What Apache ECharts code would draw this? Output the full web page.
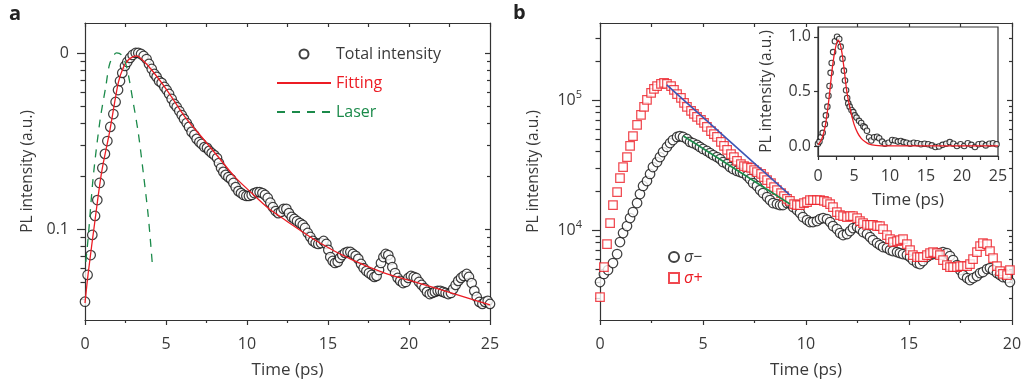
<!DOCTYPE html>
<html>
<head>
<meta charset="utf-8">
<script src="https://cdn.jsdelivr.net/npm/echarts@6/dist/echarts.min.js"></script>
<style>
  html, body { margin: 0; padding: 0; background: #fff; }
  #chart { width: 1022px; height: 387px; }
</style>
</head>
<body>
<div id="chart"></div>
<script>
// panel a: total intensity (normalised), fit and laser profile
const tA = [0, 0.16, 0.35, 0.45, 0.62, 0.76, 0.9, 1.07, 1.23, 1.38,
  1.56, 1.75, 1.89, 2.04, 2.16, 2.3, 2.47, 2.61, 2.78, 2.94,
  3.13, 3.29, 3.46, 3.62, 3.8, 3.95, 4.12, 4.28, 4.42, 4.57,
  4.73, 4.9, 5.04, 5.19, 5.35, 5.51, 5.66, 5.82, 5.97, 6.11,
  6.28, 6.42, 6.58, 6.75, 6.89, 7.06, 7.2, 7.37, 7.53, 7.67,
  7.82, 7.98, 8.15, 8.27, 8.4, 8.54, 8.68, 8.85, 9.01, 9.16,
  9.3, 9.47, 9.63, 9.79, 9.96, 10.12, 10.29, 10.45, 10.62, 10.78,
  10.95, 11.11, 11.28, 11.44, 11.6, 11.77, 11.93, 12.1, 12.26, 12.43,
  12.59, 12.76, 12.92, 13.09, 13.27, 13.44, 13.58, 13.75, 13.91, 14.07,
  14.24, 14.4, 14.57, 14.73, 14.9, 15.02, 15.14, 15.29, 15.43, 15.6,
  15.74, 15.88, 16.05, 16.21, 16.38, 16.54, 16.71, 16.87, 17.04, 17.2,
  17.37, 17.53, 17.7, 17.86, 18.0, 18.15, 18.27, 18.42, 18.56, 18.72,
  18.85, 18.97, 19.14, 19.3, 19.46, 19.63, 19.8, 19.96, 20.12, 20.29,
  20.45, 20.62, 20.78, 20.95, 21.11, 21.28, 21.44, 21.6, 21.77, 21.93,
  22.1, 22.26, 22.42, 22.59, 22.73, 22.88, 23.04, 23.21, 23.37, 23.56,
  23.7, 23.87, 24.03, 24.18, 24.34, 24.53, 24.69, 24.86, 25.0];
const vA = [0.0386, 0.0548, 0.0711, 0.0925, 0.1186, 0.146, 0.1825, 0.222, 0.267, 0.316,
  0.38, 0.45, 0.527, 0.616, 0.693, 0.77, 0.844, 0.889, 0.937, 0.974,
  1.0, 1.0, 0.987, 0.962, 0.924, 0.866, 0.811, 0.76, 0.731, 0.693,
  0.676, 0.641, 0.616, 0.585, 0.548, 0.513, 0.493, 0.468, 0.444, 0.422,
  0.4, 0.38, 0.356, 0.342, 0.325, 0.312, 0.304, 0.292, 0.289, 0.278,
  0.27, 0.263, 0.253, 0.237, 0.222, 0.211, 0.203, 0.197, 0.192, 0.1825,
  0.173, 0.164, 0.16, 0.156, 0.154, 0.154, 0.156, 0.16, 0.162, 0.162,
  0.16, 0.156, 0.15, 0.141, 0.133, 0.1265, 0.123, 0.125, 0.13, 0.13,
  0.123, 0.117, 0.114, 0.111, 0.108, 0.1054, 0.1013, 0.0949, 0.0901, 0.0855,
  0.0832, 0.0822, 0.0832, 0.0855, 0.0822, 0.076, 0.0693, 0.0658, 0.0641, 0.065,
  0.0685, 0.0711, 0.0731, 0.074, 0.074, 0.0721, 0.0703, 0.0676, 0.0633, 0.06,
  0.0577, 0.0562, 0.0548, 0.0534, 0.0541, 0.0585, 0.0641, 0.0693, 0.0721, 0.0711,
  0.0667, 0.0608, 0.0562, 0.0527, 0.0507, 0.0493, 0.05, 0.0527, 0.0541, 0.0534,
  0.0527, 0.05, 0.0481, 0.0462, 0.0439, 0.0427, 0.0433, 0.0439, 0.0445, 0.0445,
  0.0439, 0.0433, 0.0427, 0.0433, 0.0456, 0.0481, 0.0507, 0.0527, 0.0541, 0.0555,
  0.0534, 0.0493, 0.0445, 0.0411, 0.0385, 0.0375, 0.0385, 0.039, 0.0375];
const tFitA = [0, 0.2, 0.62, 1.03, 1.54, 2.06, 2.4, 2.67, 2.95, 3.19, 3.5, 4.12, 5.14,
  6.17, 7.2, 8.23, 9.26, 10.29, 11.3, 12.35, 14.4, 16.5, 18.5, 20.6, 22.6, 25];
const vFitA = [0.038, 0.0562, 0.1125, 0.211, 0.365, 0.68, 0.84, 0.912, 0.95, 0.962, 0.92, 0.8, 0.6,
  0.433, 0.333, 0.2565, 0.197, 0.16, 0.1316, 0.1125, 0.0844, 0.0667, 0.0562, 0.0493, 0.0433, 0.037];
const tLaser = [0.05, 0.2, 0.51, 0.93, 1.28, 1.54, 1.95, 2.26, 2.57, 2.98, 3.29, 3.6, 3.91, 4.16];
const vLaser = [0.065, 0.09, 0.1985, 0.416, 0.641, 0.877, 1.0, 0.974, 0.833, 0.52, 0.351, 0.208, 0.117, 0.0624];

// panel b: sigma- and sigma+ intensity
const tMinus = [0, 0.19, 0.39, 0.63, 0.83, 0.97, 1.12, 1.31, 1.46, 1.6,
  1.8, 1.94, 2.09, 2.28, 2.43, 2.57, 2.77, 2.91, 3.06, 3.25,
  3.4, 3.54, 3.74, 3.88, 4.03, 4.22, 4.37, 4.51, 4.71, 4.85,
  5.0, 5.19, 5.34, 5.49, 5.68, 5.83, 5.97, 6.17, 6.31, 6.46,
  6.65, 6.8, 6.94, 7.14, 7.28, 7.43, 7.62, 7.77, 7.91, 8.11,
  8.25, 8.4, 8.59, 8.74, 8.88, 9.08, 9.22, 9.37, 9.56, 9.71,
  9.85, 10.05, 10.19, 10.34, 10.53, 10.68, 10.83, 11.02, 11.17, 11.31,
  11.5, 11.65, 11.8, 11.99, 12.14, 12.28, 12.48, 12.62, 12.77, 12.96,
  13.11, 13.25, 13.45, 13.59, 13.74, 13.93, 14.08, 14.22, 14.42, 14.56,
  14.71, 14.9, 15.05, 15.19, 15.39, 15.53, 15.68, 15.87, 16.02, 16.17,
  16.36, 16.5, 16.65, 16.84, 16.99, 17.14, 17.33, 17.48, 17.62, 17.82,
  17.96, 18.11, 18.3, 18.45, 18.59, 18.79, 18.93, 19.08, 19.27, 19.42,
  19.56, 19.76, 19.9];
const vMinus = [3981, 4592, 4924, 5572, 6537, 8085, 9482, 10730, 12370, 13750,
  16130, 18920, 21810, 23820, 26970, 30520, 33350, 36430, 39810, 43500,
  46690, 49230, 51930, 52850, 51930, 50120, 47530, 46690, 45070, 43500,
  42000, 40540, 39110, 37750, 36430, 35170, 33350, 32190, 30520, 29460,
  28440, 27930, 27450, 26030, 24680, 22990, 21810, 20310, 19260, 17940,
  17010, 16130, 15850, 15570, 15570, 16130, 16130,
  15030, 14250, 13520, 12590, 11940, 11520, 11520, 11730, 12150, 12370,
  12150, 11520, 10730, 10180, 9482, 9153, 9316, 9824, 10360, 10550,
  10180, 9652, 9316, 8834, 8377, 7943, 7667, 7400, 7270, 7017,
  6894, 6773, 6654, 6537, 6422, 6199, 5878, 5572, 5475, 5774,
  6199, 6422, 6537, 6654, 6654, 6773, 6654, 6310, 5878, 5380,
  4924, 4505, 4272, 4125, 4272, 4426, 4669, 4753, 5012, 5103,
  4924, 4669, 4505, 4350, 4272, 3981];
const tPlus = [0, 0.19, 0.34, 0.49, 0.63, 0.83, 0.97, 1.12, 1.31, 1.46,
  1.6, 1.8, 1.99, 2.14, 2.28, 2.48, 2.62, 2.77, 2.96, 3.11,
  3.25, 3.45, 3.59, 3.74, 3.93, 4.08, 4.22, 4.42, 4.56, 4.71,
  4.9, 5.05, 5.19, 5.39, 5.53, 5.68, 5.87, 6.02, 6.17, 6.36,
  6.5, 6.65, 6.84, 6.99, 7.14, 7.33, 7.48, 7.62, 7.82, 7.96,
  8.11, 8.3, 8.45, 8.59, 8.79, 8.93, 9.08, 9.22, 9.42, 9.56,
  9.71, 9.9, 10.05, 10.19, 10.34, 10.53, 10.68, 10.87, 11.02, 11.17,
  11.31, 11.5, 11.65, 11.8, 11.99, 12.14, 12.28, 12.48, 12.62, 12.77,
  12.96, 13.11, 13.25, 13.45, 13.59, 13.74, 13.93, 14.08, 14.22, 14.42,
  14.56, 14.71, 14.9, 15.05, 15.19, 15.39, 15.53, 15.68, 15.87, 16.02,
  16.17, 16.36, 16.5, 16.65, 16.84, 16.99, 17.14, 17.33, 17.48, 17.62,
  17.82, 17.96, 18.11, 18.3, 18.45, 18.59, 18.79, 18.93, 19.08, 19.27,
  19.42, 19.56, 19.76, 19.9];
const vPlus = [3052, 5192, 7804, 11320, 15570, 19600, 25120, 30520, 36430, 44280,
  52850, 64230, 76670, 88350, 100000, 113200, 121500, 128100, 132800, 135200,
  132800, 128100, 119400, 111200, 103600, 94820, 88350, 82300, 78050, 74010,
  70190, 66560, 61990, 57740, 54760, 51930, 47530, 44280, 41250, 38420,
  36430, 33950, 32190, 31070, 30520, 29990, 28940, 27930, 26970, 25570,
  24240, 22990, 21420, 20310, 19260, 18260, 17320, 16720, 15850, 15570,
  15570, 16130, 16420, 17010, 17010, 17010, 17010, 16720, 16420, 15850,
  15030, 13750, 13040, 12810, 12590, 12810, 12810, 12370, 11730, 11320,
  10930, 10930, 10930, 10730, 10730, 10180, 9153, 8526, 8085, 8230,
  8377, 8526, 7804, 7017, 6422, 6199, 6199, 6199, 6422, 6654,
  6773, 6654, 6422, 5878, 5380, 5192, 5192, 5192, 5286, 5286,
  5286, 5475, 5982, 6773, 7533, 7943, 7804, 6894, 6090, 5286,
  4838, 4592, 4505, 4924];
const fitPlus = [[3.24, 130500], [9.22, 18580]];
const fitMinus = [[4.05, 52850], [9.22, 15850]];

// inset: linear PL intensity
const tIn = [0, 0.2, 0.4, 0.65, 0.95, 1.1, 1.3, 1.45, 1.6, 1.75,
  1.9, 2.1, 2.35, 2.65, 2.95, 3.15, 3.4, 3.6, 3.75, 3.9,
  4.05, 4.2, 4.4, 4.65, 4.9, 5.1, 5.35, 5.7, 6.0, 6.3,
  6.5, 6.8, 7.1, 7.4, 7.8, 8.2, 8.5, 8.9, 9.3, 9.8,
  10.3, 10.7, 11.1, 11.5, 11.9, 12.3, 12.8, 13.3, 13.8, 14.3,
  14.8, 15.3, 15.8, 16.3, 16.8, 17.3, 17.8, 18.3, 18.8, 19.3,
  19.8, 20.3, 20.8, 21.3, 21.8, 22.3, 22.8, 23.3, 23.8, 24.3, 24.8];
const vIn = [0.02, 0.04, 0.08, 0.12, 0.2, 0.28, 0.36, 0.46, 0.55, 0.67,
  0.76, 0.86, 0.96, 1.0, 0.98, 0.91, 0.8, 0.69, 0.6, 0.51,
  0.44, 0.39, 0.36, 0.33, 0.31, 0.28, 0.26, 0.23, 0.21, 0.18,
  0.17, 0.14, 0.08, 0.05, 0.08, 0.085, 0.07, 0.04, 0.02, 0.03,
  0.055, 0.05, 0.04, 0.045, 0.035, 0.03, 0.02, 0.03, 0.025, 0.015,
  0.02, 0.015, 0.005, -0.01, -0.005, 0.01, 0.02, 0.035, 0.02, 0.0,
  0.015, 0.0, 0.025, 0.01, -0.01, 0.015, 0.02, 0.005, 0.02, 0.025, 0.015];
const tInFit = [0, 0.5, 1.0, 1.5, 2.0, 2.4, 2.8, 3.2, 3.6, 4.0, 4.5, 5.0, 5.5, 6.0, 6.5, 7.0, 8.0, 10, 15, 20, 25];
const vInFit = [0.01, 0.06, 0.18, 0.42, 0.72, 0.89, 0.97, 0.9, 0.72, 0.5, 0.33, 0.2, 0.12, 0.07, 0.04, 0.02, 0.005, 0.0, 0.0, 0.0, 0.0];

// tick values
const majorA = [0.1, 1];
const minorA = [0.04, 0.05, 0.06, 0.07, 0.08, 0.09, 0.2, 0.3, 0.4, 0.5, 0.6, 0.7, 0.8, 0.9];
const majorB = [1e4, 1e5];
const minorB = [3000, 4000, 5000, 6000, 7000, 8000, 9000,
  20000, 30000, 40000, 50000, 60000, 70000, 80000, 90000, 200000, 300000];
const ticksIn = [0, 0.5, 1.0];

const FONT = '"Open Sans", Lato, sans-serif';
const TXT = '#3a3a3a';
const AX = '#333';
const RED = '#ec1c24';
const GREEN = '#1b8a4a';
const BLUE = '#3c55b4';

const zip = (xs, ys) => xs.map((x, i) => [x, ys[i]]);

const lineSty = { show: true, onZero: false, lineStyle: { color: AX, width: 1.2 } };
const labelSty = { fontSize: 16, color: TXT, fontFamily: FONT };
const xNameSty = { fontSize: 17, color: TXT, fontFamily: FONT };
const yNameSty = { fontSize: 15.5, color: TXT, fontFamily: FONT };

function bottomX(grid, max, gap, margin) {
  return {
    gridIndex: grid, type: 'value', position: 'bottom', min: 0, max: max, interval: 5,
    axisLine: lineSty,
    axisTick: { show: true, inside: false, length: 5, lineStyle: { color: AX, width: 1.2 } },
    minorTick: { show: true, splitNumber: 2, length: 3, lineStyle: { color: AX, width: 1.2 } },
    axisLabel: Object.assign({ margin: margin }, labelSty),
    splitLine: { show: false },
    name: 'Time (ps)', nameLocation: 'middle', nameGap: gap, nameTextStyle: xNameSty
  };
}
function topX(grid, max) {
  return {
    gridIndex: grid, type: 'value', position: 'top', min: 0, max: max, interval: 2.5,
    axisLine: lineSty,
    axisTick: { show: true, inside: true, length: 4, lineStyle: { color: AX, width: 1.2 } },
    axisLabel: { show: false }, splitLine: { show: false }
  };
}
function logY(grid, min, max, pos, ticks, len, inside, showLine, label) {
  const ax = {
    gridIndex: grid, type: 'log', logBase: 10, position: pos, min: min, max: max,
    axisLine: showLine ? lineSty : { show: false, onZero: false },
    axisTick: { show: true, inside: inside, length: len, customValues: ticks,
      lineStyle: { color: AX, width: 1.2 } },
    axisLabel: { show: false },
    splitLine: { show: false }, minorTick: { show: false }
  };
  if (label) Object.assign(ax, label);
  return ax;
}

const chart = echarts.init(document.getElementById('chart'), null, { renderer: 'canvas' });

const gridBase = { containLabel: false, outerBoundsMode: 'none' };
const noSymbol = { opacity: 0 };
const ring = (c, w) => ({ color: '#fff', borderColor: c, borderWidth: w });

chart.setOption({
  animation: false,
  backgroundColor: '#fff',
  textStyle: { fontFamily: FONT },
  graphic: [
    { type: 'text', left: 9, top: 4, style: { text: 'a', font: 'bold 20px ' + FONT, fill: '#222' } },
    { type: 'text', left: 513, top: 3, style: { text: 'b', font: 'bold 20px ' + FONT, fill: '#222' } }
  ],
  grid: [
    Object.assign({ left: 85, top: 23, width: 405, height: 297 }, gridBase),
    Object.assign({ left: 600, top: 23, width: 412, height: 297 }, gridBase),
    Object.assign({ left: 818, top: 27, width: 180, height: 129, show: true,
      backgroundColor: '#fff', borderColor: AX, borderWidth: 1.2 }, gridBase)
  ],
  legend: [
    {
      orient: 'vertical', left: 276, top: 46, padding: 0, itemWidth: 54, itemHeight: 9, itemGap: 13,
      selectedMode: false, textStyle: { fontSize: 16, fontFamily: FONT },
      data: [
        { name: 'Total intensity', textStyle: { color: TXT } },
        { name: 'Fitting', textStyle: { color: RED }, itemStyle: noSymbol },
        { name: 'Laser', textStyle: { color: GREEN }, itemStyle: noSymbol }
      ]
    },
    {
      orient: 'vertical', left: 668, top: 249, padding: 0, itemWidth: 10, itemHeight: 10, itemGap: 5,
      selectedMode: false, textStyle: { fontSize: 16, fontFamily: FONT, fontStyle: 'italic' },
      data: [
        { name: '\u03c3\u2212', textStyle: { color: TXT } },
        { name: '\u03c3+', textStyle: { color: RED } }
      ]
    }
  ],
  xAxis: [
    bottomX(0, 25, 42, 16),
    topX(0, 25),
    bottomX(1, 20, 42, 16),
    topX(1, 20),
    Object.assign(bottomX(2, 25, 36, 12), {
      axisTick: { show: true, inside: false, length: 4, lineStyle: { color: AX, width: 1.2 } },
      minorTick: { show: true, splitNumber: 2, length: 4, lineStyle: { color: AX, width: 1.2 } }
    })
  ],
  yAxis: [
    logY(0, 0.0304, 1.48, 'left', majorA, 8, false, true, {
      axisLabel: Object.assign({ show: true, margin: 16, customValues: majorA,
        formatter: v => (v > 0.5 ? '0' : '0.1') }, labelSty),
      name: 'PL intensity (a.u.)', nameLocation: 'middle', nameGap: 49, nameTextStyle: yNameSty
    }),
    logY(0, 0.0304, 1.48, 'left', minorA, 4.5, false, false),
    logY(0, 0.0304, 1.48, 'right', majorA, 5, true, true),
    logY(0, 0.0304, 1.48, 'right', minorA, 3, true, false),
    logY(1, 2032, 391000, 'left', majorB, 8, false, true, {
      axisLabel: Object.assign({ show: true, margin: 18, customValues: majorB,
        formatter: v => '{b|10}{sup|' + Math.round(Math.log10(v)) + '}',
        rich: {
          b: { fontSize: 16, lineHeight: 22, color: TXT, fontFamily: FONT },
          sup: { fontSize: 11, lineHeight: 11, verticalAlign: 'top', color: TXT, fontFamily: FONT }
        } }, labelSty),
      name: 'PL intensity (a.u.)', nameLocation: 'middle', nameGap: 58, nameTextStyle: yNameSty
    }),
    logY(1, 2032, 391000, 'left', minorB, 4.5, false, false),
    logY(1, 2032, 391000, 'right', majorB, 5, true, true),
    logY(1, 2032, 391000, 'right', minorB, 3, true, false),
    {
      gridIndex: 2, type: 'value', position: 'left', min: -0.092, max: 1.09,
      axisLine: lineSty,
      axisTick: { show: true, inside: false, length: 4, customValues: ticksIn,
        lineStyle: { color: AX, width: 1.2 } },
      axisLabel: Object.assign({ margin: 7, customValues: ticksIn,
        formatter: v => v.toFixed(1) }, labelSty),
      splitLine: { show: false },
      name: 'PL intensity (a.u.)', nameLocation: 'middle', nameGap: 43, nameTextStyle: yNameSty
    }
  ],
  series: [
    {
      name: 'Total intensity', type: 'scatter', xAxisIndex: 0, yAxisIndex: 0,
      data: zip(tA, vA), symbol: 'circle', symbolSize: 9.5,
      itemStyle: ring('#111', 1.25), z: 2
    },
    {
      name: 'Fitting', type: 'line', xAxisIndex: 0, yAxisIndex: 0,
      data: zip(tFitA, vFitA), smooth: 0.3, symbol: 'none',
      lineStyle: { color: RED, width: 1.3 }, itemStyle: { color: RED }, z: 4
    },
    {
      name: 'Laser', type: 'line', xAxisIndex: 0, yAxisIndex: 0,
      data: zip(tLaser, vLaser), smooth: 0.3, symbol: 'none',
      lineStyle: { color: GREEN, width: 1.3, type: [8, 7] }, itemStyle: { color: GREEN }, z: 4
    },
    {
      name: '\u03c3\u2212', type: 'scatter', xAxisIndex: 2, yAxisIndex: 4,
      data: zip(tMinus, vMinus), symbol: 'circle', symbolSize: 9.5,
      itemStyle: ring('#111', 1.25), z: 2
    },
    {
      name: '\u03c3+', type: 'scatter', xAxisIndex: 2, yAxisIndex: 4,
      data: zip(tPlus, vPlus), symbol: 'rect', symbolSize: 8.5,
      itemStyle: ring(RED, 1.25), z: 3
    },
    {
      name: 'fit+', type: 'line', xAxisIndex: 2, yAxisIndex: 4, data: fitPlus,
      symbol: 'none', lineStyle: { color: BLUE, width: 1.6 }, z: 4
    },
    {
      name: 'fit-', type: 'line', xAxisIndex: 2, yAxisIndex: 4, data: fitMinus,
      symbol: 'none', lineStyle: { color: GREEN, width: 1.6 }, z: 4
    },
    {
      name: 'inset data', type: 'scatter', xAxisIndex: 4, yAxisIndex: 8,
      data: zip(tIn, vIn), symbol: 'circle', symbolSize: 5.5,
      itemStyle: ring('#111', 1.1), z: 5
    },
    {
      name: 'inset fit', type: 'line', xAxisIndex: 4, yAxisIndex: 8,
      data: zip(tInFit, vInFit), smooth: 0.3, symbol: 'none',
      lineStyle: { color: RED, width: 1.3 }, z: 6
    }
  ]
});
</script>
</body>
</html>
